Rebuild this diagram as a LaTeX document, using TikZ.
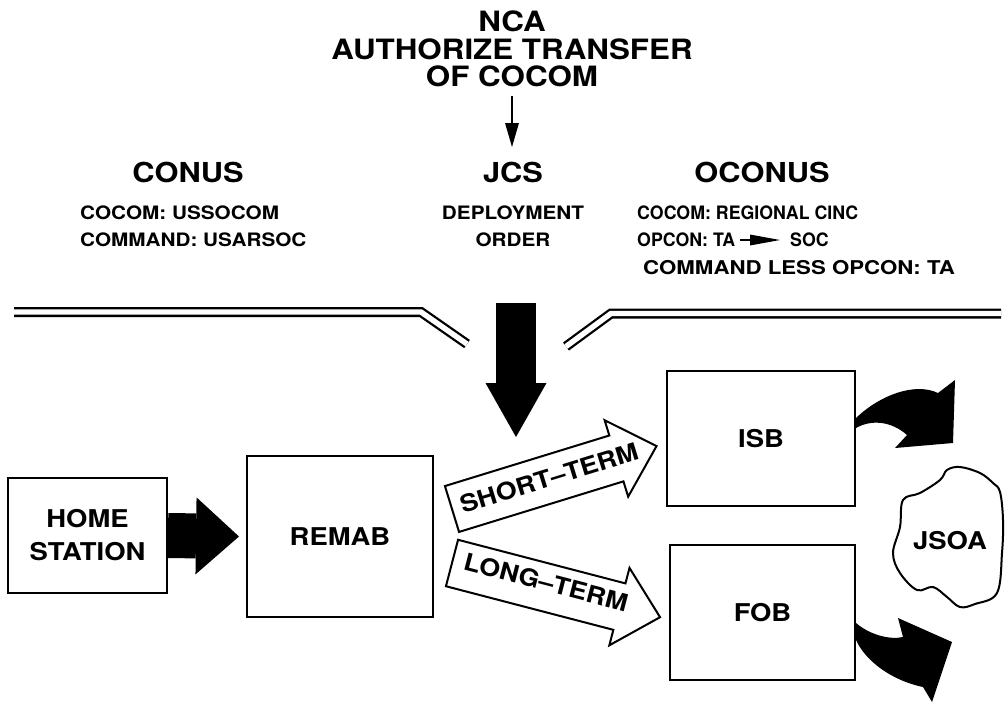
\documentclass[tikz,border=0pt]{standalone}
\usepackage{fontspec}
\setmainfont{TeX Gyre Heros}[FakeStretch=1.12]
\newfontfamily\hvcond{TeX Gyre Heros}[FakeStretch=0.96]
\newfontfamily\hvwide{TeX Gyre Heros}[FakeStretch=1.17]
\usetikzlibrary{arrows.meta,calc}
\begin{document}
\begin{tikzpicture}[x=1pt,y=-1pt,
  every node/.style={font=\bfseries, inner sep=0pt},
  title/.style={font=\bfseries\fontsize{28}{27.5}\selectfont, align=center},
  head/.style={font=\bfseries\fontsize{27.5}{29}\selectfont},
  small/.style={font=\bfseries\fontsize{18.5}{20}\selectfont},
  smallc/.style={font=\hvcond\bfseries\fontsize{18.5}{20}\selectfont},
  smallw/.style={font=\hvwide\bfseries\fontsize{19}{20}\selectfont},
  boxlabel/.style={font=\bfseries\fontsize{24.5}{33}\selectfont, align=center},
  box/.style={draw, line width=2pt, inner sep=0pt},
  dbl/.style={draw, line width=2.3pt, double, double distance=5.4pt, line join=miter},
  hollow/.style={draw, line width=2pt, fill=white, line join=miter},
]
\useasboundingbox (0,0) rectangle (1006,702);

% title
\node[title] (nca) at (512,49) {NCA\\AUTHORIZE TRANSFER\\OF COCOM};
\coordinate (ncaArrowStart) at (512,96);
\coordinate (jcsTopArrow) at (512,147);
\draw[line width=2pt, -{Triangle[length=24pt,width=14pt,line width=0pt]}] (ncaArrowStart) -- (jcsTopArrow);

% headings
\node[head] (conus) at (188,172) {CONUS};
\node[head] (jcs) at (513,172) {JCS};
\node[head] (oconus) at (762,172) {OCONUS};

\node[small, anchor=west] (c1) at (80,213) {COCOM: USSOCOM};
\node[small, anchor=west] (c2) at (80,240) {COMMAND: USARSOC};
\node[small] (j1) at (513,213) {DEPLOYMENT};
\node[small] (j2) at (513,240) {ORDER};
\node[smallc, anchor=west] (o1) at (637,213) {COCOM: REGIONAL CINC};
\node[smallc, anchor=west] (o2) at (637,240) {OPCON: TA};
\node[smallc, anchor=west] (soc) at (790,240) {SOC};
\draw[line width=1.5pt, -{Triangle[length=30pt,width=11pt,line width=0pt]}] ([xshift=5pt]o2.east) -- ([xshift=-10pt]soc.west);
\node[smallw, anchor=west] (o3) at (643,268) {COMMAND LESS OPCON: TA};

% double boundary lines
\coordinate (l0) at (14,312);
\coordinate (l1) at (421,312);
\coordinate (l2) at (467,344);
\coordinate (r0) at (566,346.5);
\coordinate (r1) at (611,313.5);
\coordinate (r2) at (1001,313.5);
\draw[dbl] (l0) -- (l1) -- (l2);
\draw[dbl] (r0) -- (r1) -- (r2);

% JCS big arrow
\coordinate (bigTop) at (516,303);
\coordinate (bigTip) at (516,437);
\draw[line width=40pt, -{Triangle[length=54pt,width=61pt,line width=0pt]}] (bigTop) -- (bigTip);

% boxes
\node[box, minimum width=159pt, minimum height=115pt] (home) at (87.5,535.5) {};
\node[boxlabel] (homel) at (home) {HOME\\STATION};
\node[box, minimum width=186pt, minimum height=161pt] (remab) at (340,536.5) {};
\node[boxlabel] (remabl) at (remab) {REMAB};
\node[box, minimum width=188pt, minimum height=135pt] (isb) at (761,438.5) {};
\node[boxlabel] (isbl) at (isb) {ISB};
\node[box, minimum width=185pt, minimum height=135pt] (fob) at (762.5,612.5) {};
\node[boxlabel] (fobl) at (fob) {FOB};

% home -> remab
\draw[line width=45pt, -{Triangle[length=43pt,width=77pt,line width=0pt]}] (home.east) -- ([xshift=-7pt]remab.west);

% short-term hollow arrow
\begin{scope}[shift={(452,509)}, rotate=17.1]
  \path[hollow] (0,-24) -- (172,-24) -- (172,-40) -- (214,0) -- (172,40) -- (172,24) -- (0,24) -- cycle;
\end{scope}
\node[font=\bfseries\fontsize{24}{26}\selectfont, rotate=17.1] (st) at (549,478) {SHORT--TERM};

% long-term hollow arrow
\begin{scope}[shift={(452,563)}, rotate=-14.6]
  \path[hollow] (0,-24) -- (173,-24) -- (173,-40) -- (215,0) -- (173,40) -- (173,24) -- (0,24) -- cycle;
\end{scope}
\node[font=\bfseries\fontsize{24}{26}\selectfont, rotate=-14.6] (lt) at (546,582) {LONG--TERM};

% curved black arrows
\fill (isb.east |- 0,418) .. controls (880,395) and (915,382) .. (938,393) -- (955,380) -- (953,443) -- (895,448) -- (907,435) .. controls (890,420) and (870,420) .. (isb.east |- 0,428) -- cycle;
\fill (fob.east |- 0,623) .. controls (870,635) and (890,640) .. (903,637) -- (898,618) -- (952,642) -- (932,702) -- (923,687) .. controls (890,680) and (865,660) .. (fob.east |- 0,640) -- cycle;

% JSOA cloud
\draw[line width=2pt] plot[smooth cycle, tension=0.6] coordinates {
 (960,467) (980,473) (993,483) (1000,492) (1003,520) (1002,553) (997,593) (975,604) (960,607)
 (947,597) (933,587) (917,590) (900,573) (893,553) (900,527) (903,500) (920,493) (940,480) (947,470)};
\node[boxlabel] (jsoa) at (950,541) {JSOA};
\end{tikzpicture}
\end{document}
